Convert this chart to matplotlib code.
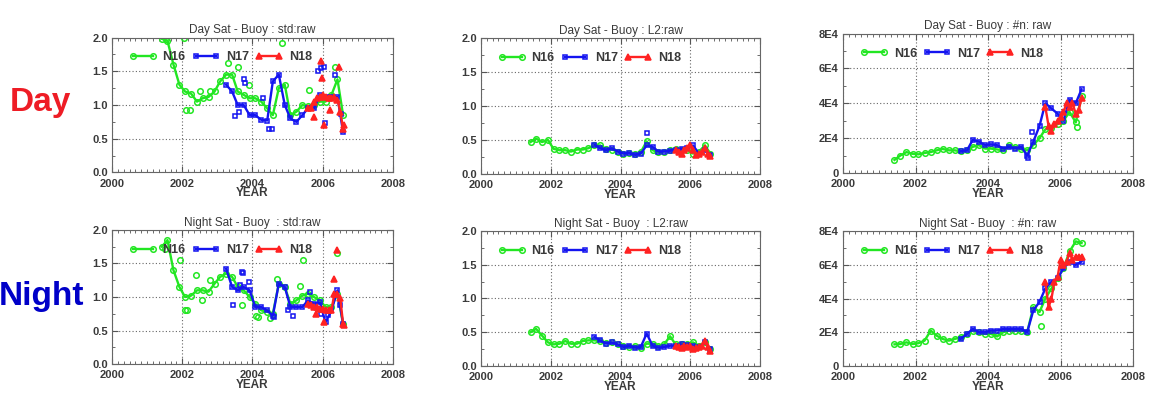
import numpy as np
import matplotlib.pyplot as plt
from matplotlib.ticker import MultipleLocator, FixedLocator, FixedFormatter
from matplotlib.lines import Line2D

plt.rcParams['font.family'] = ['Liberation Sans', 'DejaVu Sans']

# time axes (decimal year) per satellite
t16 = [2001.42, 2001.58, 2001.75, 2001.92, 2002.08, 2002.25, 2002.42, 2002.58,
       2002.75, 2002.92, 2003.08, 2003.25, 2003.42, 2003.58, 2003.75, 2003.92,
       2004.08, 2004.25, 2004.42, 2004.58, 2004.75, 2004.92, 2005.08, 2005.25,
       2005.42, 2005.58, 2005.75, 2005.92, 2006.08, 2006.25, 2006.42, 2006.58]
t17 = [2003.25, 2003.42, 2003.58, 2003.75, 2003.92, 2004.08, 2004.25, 2004.42,
       2004.58, 2004.75, 2004.92, 2005.08, 2005.25, 2005.42, 2005.58, 2005.75,
       2005.92, 2006.08, 2006.25, 2006.42, 2006.58]
t18 = [2005.58, 2005.67, 2005.75, 2005.83, 2005.92, 2006.0, 2006.08, 2006.17,
       2006.25, 2006.33, 2006.42, 2006.5, 2006.58]

# ---- Day std ----
day_std_16 = [1.98, 1.95, 1.6, 1.3, 1.2, 1.17, 1.05, 1.1, 1.12, 1.2, 1.35, 1.45,
              1.45, 1.2, 1.15, 1.1, 1.1, 1.05, 0.95, 0.85, 1.25, 1.3, 0.85, 0.9,
              1.0, 0.98, 1.0, 1.05, 1.05, 1.15, 1.38, 0.85]
day_std_17 = [1.3, 1.2, 1.0, 1.0, 0.85, 0.85, 0.78, 0.77, 1.35, 1.45, 1.0, 0.8,
              0.75, 0.85, 0.95, 0.95, 1.15, 1.12, 1.12, 1.12, 0.6]
day_std_18 = [0.95, 0.95, 1.05, 1.1, 1.12, 1.15, 1.12, 1.1, 1.1, 1.12, 1.08, 0.9, 0.65]
day_std_x16 = [2001.55, 2002.05, 2002.12, 2002.22, 2002.5, 2002.78, 2003.3, 2003.6,
               2003.9, 2004.85, 2005.6, 2006.35]
day_std_y16 = [1.98, 2.0, 0.93, 0.92, 1.2, 1.2, 1.62, 1.57, 1.3, 1.92, 1.22, 1.57]
day_std_x17 = [2003.5, 2003.62, 2003.75, 2003.78, 2004.3, 2004.48, 2004.55, 2005.88,
               2005.95, 2006.03, 2006.07, 2006.35, 2006.52]
day_std_y17 = [0.84, 0.9, 1.38, 1.33, 1.1, 0.65, 0.64, 1.5, 1.55, 1.57, 0.73, 1.45, 0.87]
day_std_x18 = [2005.75, 2005.95, 2005.97, 2006.05, 2006.2, 2006.45, 2006.6]
day_std_y18 = [0.82, 1.65, 1.4, 0.7, 0.93, 1.57, 0.7]

# ---- Night std ----
ngt_std_16 = [1.75, 1.85, 1.4, 1.15, 1.0, 1.02, 1.1, 1.1, 1.08, 1.2, 1.3, 1.35,
              1.3, 1.15, 1.1, 1.0, 0.9, 0.8, 0.78, 0.75, 1.2, 1.15, 0.9, 0.95,
              1.02, 1.05, 1.0, 0.95, 0.85, 0.85, 1.05, 0.6]
ngt_std_17 = [1.42, 1.15, 1.1, 1.15, 1.1, 0.85, 0.85, 0.8, 0.72, 1.2, 1.15, 0.85,
              0.85, 0.85, 0.95, 0.9, 0.92, 0.62, 0.8, 1.1, 0.6]
ngt_std_18 = [0.9, 0.88, 0.85, 0.85, 0.82, 0.82, 0.8, 0.8, 0.8, 1.05, 1.05, 0.98, 0.6]
ngt_std_x16 = [2001.5, 2001.95, 2002.08, 2002.14, 2002.4, 2002.55, 2002.8, 2003.7,
               2004.1, 2004.15, 2004.5, 2004.7, 2005.35, 2005.45, 2006.42]
ngt_std_y16 = [1.72, 1.55, 0.8, 0.8, 1.33, 0.95, 1.25, 0.88, 0.72, 0.7, 0.68, 1.27,
               1.17, 1.55, 1.65]
ngt_std_x17 = [2003.45, 2003.65, 2003.7, 2003.72, 2003.9, 2004.6, 2005.0, 2005.15,
               2005.65, 2005.95, 2006.15, 2006.5]
ngt_std_y17 = [0.88, 1.18, 1.38, 1.36, 1.23, 0.7, 0.8, 0.72, 1.08, 0.75, 0.73, 0.88]
ngt_std_x18 = [2005.8, 2006.05, 2006.33, 2006.4, 2006.6]
ngt_std_y18 = [0.75, 0.62, 1.27, 1.7, 0.58]

# ---- Day L2 ----
day_l2_16 = [0.47, 0.52, 0.47, 0.5, 0.37, 0.35, 0.35, 0.33, 0.36, 0.36, 0.38, 0.42,
             0.42, 0.37, 0.36, 0.33, 0.3, 0.31, 0.3, 0.32, 0.48, 0.35, 0.32, 0.33,
             0.35, 0.37, 0.36, 0.35, 0.3, 0.33, 0.42, 0.3]
day_l2_17 = [0.43, 0.38, 0.35, 0.38, 0.33, 0.3, 0.31, 0.28, 0.3, 0.42, 0.4, 0.33,
             0.33, 0.34, 0.36, 0.37, 0.38, 0.42, 0.3, 0.35, 0.28]
day_l2_18 = [0.35, 0.33, 0.3, 0.35, 0.38, 0.42, 0.35, 0.28, 0.3, 0.33, 0.38, 0.3, 0.27]
day_l2_x17 = [2004.75]
day_l2_y17 = [0.61]

# ---- Night L2 ----
ngt_l2_16 = [0.5, 0.55, 0.45, 0.35, 0.32, 0.33, 0.37, 0.33, 0.33, 0.37, 0.38, 0.38,
             0.37, 0.34, 0.35, 0.32, 0.3, 0.28, 0.3, 0.27, 0.33, 0.33, 0.3, 0.32,
             0.44, 0.32, 0.33, 0.33, 0.35, 0.3, 0.35, 0.25]
ngt_l2_17 = [0.43, 0.38, 0.33, 0.35, 0.32, 0.28, 0.3, 0.27, 0.28, 0.48, 0.3, 0.27,
             0.28, 0.3, 0.3, 0.32, 0.31, 0.3, 0.28, 0.35, 0.25]
ngt_l2_18 = [0.3, 0.28, 0.27, 0.3, 0.28, 0.3, 0.25, 0.27, 0.28, 0.3, 0.37, 0.28, 0.22]

# ---- Day #n (units of 1E4) ----
day_n_16 = [0.75, 1.0, 1.2, 1.1, 1.07, 1.15, 1.2, 1.3, 1.38, 1.3, 1.3, 1.25,
            1.3, 1.5, 1.6, 1.4, 1.4, 1.35, 1.3, 1.6, 1.5, 1.35, 1.3, 1.6,
            2.0, 2.5, 2.6, 2.8, 3.0, 3.5, 2.9, 4.4]
day_n_17 = [1.25, 1.3, 1.9, 1.8, 1.6, 1.65, 1.6, 1.4, 1.5, 1.4, 1.5, 1.0,
            1.8, 2.7, 4.0, 3.7, 3.4, 3.0, 4.2, 4.0, 4.8]
day_n_18 = [3.8, 2.7, 2.4, 2.8, 3.0, 3.2, 3.5, 4.0, 3.8, 4.0, 3.4, 3.6, 4.3]
day_n_x16 = [2006.45]
day_n_y16 = [2.65]
day_n_x17 = [2005.1, 2005.2]
day_n_y17 = [0.88, 2.35]

# ---- Night #n (units of 1E4) ----
ngt_n_16 = [1.28, 1.3, 1.4, 1.3, 1.35, 1.5, 2.1, 1.8, 1.6, 1.5, 1.6, 1.7,
            1.9, 2.1, 2.0, 1.9, 1.9, 1.75, 2.0, 2.1, 2.1, 2.1, 2.0, 3.5,
            3.2, 4.0, 4.6, 5.2, 5.8, 6.8, 7.4, 7.3]
ngt_n_17 = [1.6, 1.9, 2.2, 2.0, 2.0, 2.1, 2.1, 2.2, 2.2, 2.2, 2.2, 2.0,
            3.3, 3.8, 4.6, 5.0, 5.2, 5.8, 6.2, 6.0, 6.2]
ngt_n_18 = [5.0, 3.5, 4.0, 5.0, 5.3, 6.3, 6.0, 6.2, 6.7, 6.3, 6.5, 6.5, 6.5]
ngt_n_x16 = [2005.47]
ngt_n_y16 = [2.4]

GREEN, BLUE, RED = '#22e622', '#1414f0', '#ff2222'
TXT = '#3a3a3a'

panels = [
    # title, rect, kind, lines, extras
    ('Day Sat - Buoy : std:raw', [0.0973, 0.5644, 0.2441, 0.3409], 'std',
     (day_std_16, day_std_17, day_std_18),
     ((day_std_x16, day_std_y16), (day_std_x17, day_std_y17), (day_std_x18, day_std_y18))),
    ('Day Sat - Buoy : L2:raw', [0.4179, 0.5606, 0.2424, 0.3434], 'l2',
     (day_l2_16, day_l2_17, day_l2_18),
     (([], []), (day_l2_x17, day_l2_y17), ([], []))),
    ('Day Sat - Buoy : #n: raw', [0.7324, 0.5631, 0.2520, 0.3523], 'n',
     (day_n_16, day_n_17, day_n_18),
     ((day_n_x16, day_n_y16), (day_n_x17, day_n_y17), ([], []))),
    ('Night Sat - Buoy  : std:raw', [0.0973, 0.0808, 0.2441, 0.3384], 'std',
     (ngt_std_16, ngt_std_17, ngt_std_18),
     ((ngt_std_x16, ngt_std_y16), (ngt_std_x17, ngt_std_y17), (ngt_std_x18, ngt_std_y18))),
    ('Night Sat - Buoy  : L2:raw', [0.4179, 0.0758, 0.2424, 0.3409], 'l2',
     (ngt_l2_16, ngt_l2_17, ngt_l2_18),
     (([], []), ([], []), ([], []))),
    ('Night Sat - Buoy  : #n: raw', [0.7324, 0.0760, 0.2520, 0.3400], 'n',
     (ngt_n_16, ngt_n_17, ngt_n_18),
     ((ngt_n_x16, ngt_n_y16), ([], []), ([], []))),
]

styles = [
    dict(color=GREEN, marker='o', mfc='none', mec=GREEN, ms=4, label='N16'),
    dict(color=BLUE, marker='s', mfc='none', mec=BLUE, ms=3.3, label='N17'),
    dict(color=RED, marker='^', mfc=RED, mec=RED, ms=4, label='N18'),
]
times = [t16, t17, t18]

fig = plt.figure(figsize=(11.51, 3.96), dpi=100)

for title, rect, kind, lines, extras in panels:
    ax = fig.add_axes(rect)
    for t, y, (ex, ey), st in zip(times, lines, extras, styles):
        ax.plot(t, y, lw=1.7, mew=1.1, **st)
        if ex:
            ax.plot(ex, ey, ls='none', mew=1.1, ms=st['ms'],
                    marker=st['marker'], mfc=st['mfc'], mec=st['mec'])

    ax.set_xlim(2000, 2008)
    ax.xaxis.set_major_locator(MultipleLocator(2))
    ax.xaxis.set_minor_locator(MultipleLocator(1 / 6))
    if kind == 'n':
        ax.set_ylim(0, 8)
        ax.yaxis.set_major_locator(FixedLocator([0, 2, 4, 6, 8]))
        ax.yaxis.set_major_formatter(FixedFormatter(['0', '2E4', '4E4', '6E4', '8E4']))
        ax.yaxis.set_minor_locator(MultipleLocator(1))
    else:
        ax.set_ylim(0, 2)
        ax.yaxis.set_major_locator(MultipleLocator(0.5))
        ax.yaxis.set_major_formatter(plt.FormatStrFormatter('%.1f'))
        ax.yaxis.set_minor_locator(MultipleLocator(0.25))

    ax.grid(True, which='major', ls=(0, (1, 2)), color='#666666', lw=0.8)
    ax.tick_params(which='both', direction='in', top=True, right=True,
                   colors='#555555', labelcolor=TXT, labelsize=8)
    ax.tick_params(axis='x', which='major', pad=4.5)
    ax.tick_params(axis='y', which='major', pad=3)
    ax.tick_params(which='major', length=4)
    ax.tick_params(which='minor', length=2)
    for lab in ax.get_xticklabels() + ax.get_yticklabels():
        lab.set_fontweight('bold')
    for sp in ax.spines.values():
        sp.set_color('#666666')
        sp.set_linewidth(0.8)

    ax.set_title(title, fontsize=8.5, color=TXT, pad=3)
    ax.set_xlabel('YEAR', fontsize=8.5, fontweight='bold', color=TXT, labelpad=-1)

    handles = [Line2D([], [], lw=1.7, mew=1.1, **st) for st in styles]
    leg = ax.legend(handles=handles, ncol=3, loc='upper left',
                    bbox_to_anchor=(0.02, 0.98), frameon=False, numpoints=2,
                    handlelength=2.2, handletextpad=0.5, columnspacing=0.5,
                    prop=dict(size=9, weight='bold'))
    for txt in leg.get_texts():
        txt.set_color(TXT)

fig.text(0.035, 0.74, 'Day', color='#ee1c25', fontsize=24, fontweight='bold',
         ha='center', va='center')
fig.text(0.036, 0.25, 'Night', color='#0000c8', fontsize=24, fontweight='bold',
         ha='center', va='center')

fig.savefig('out.png', dpi=100)
